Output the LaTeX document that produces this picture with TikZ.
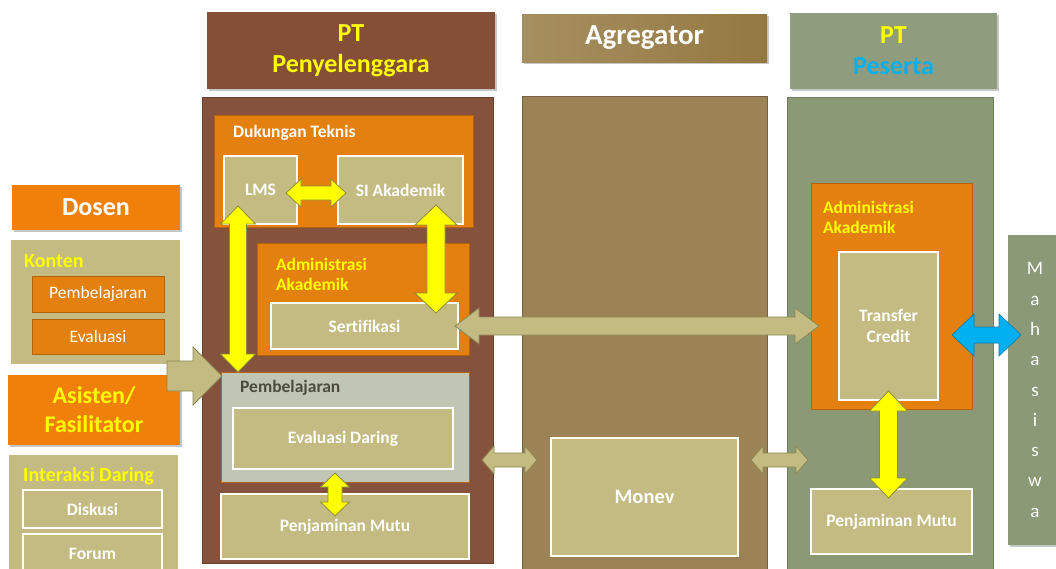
\documentclass[tikz,border=0pt]{standalone}
\usepackage{fontspec}
\setmainfont{Carlito}[Ligatures=NoCommon]
\usetikzlibrary{calc,shadows}

\definecolor{dosenor}{HTML}{F0800A}
\definecolor{boxor}{HTML}{E3800F}
\definecolor{boxorline}{HTML}{B4620C}
\definecolor{khaki}{HTML}{C3BB81}
\definecolor{khakiline}{HTML}{8C8652}
\definecolor{ppbrown}{HTML}{85533D}
\definecolor{ppline}{HTML}{6C3F2C}
\definecolor{pphead}{HTML}{854E36}
\definecolor{agbrown}{HTML}{9B8355}
\definecolor{agline}{HTML}{76623F}
\definecolor{agleft}{HTML}{A68F60}
\definecolor{agright}{HTML}{947841}
\definecolor{psgreen}{HTML}{8B9977}
\definecolor{pshead}{HTML}{8F9D7E}
\definecolor{psline}{HTML}{6F7C5E}
\definecolor{pembgrey}{HTML}{C1C6B4}
\definecolor{pembline}{HTML}{B0661C}
\definecolor{yel}{HTML}{FFFF00}
\definecolor{yelline}{HTML}{8E8E3A}
\definecolor{cyanar}{HTML}{00B0F0}
\definecolor{labgrey}{HTML}{4B4B3E}

\tikzset{
	blk/.style={anchor=north west, inner sep=0pt, outer sep=0pt},
	wbox/.style={blk, draw=white, line width=2.5pt, fill=khaki, text=white, align=center, font=\fontsize{17.5}{21}\selectfont\bfseries},
	obox/.style={blk, draw=boxorline, line width=1pt, fill=boxor},
	head/.style={blk, drop shadow={shadow xshift=2pt, shadow yshift=-2pt, opacity=0.45}, align=center, font=\fontsize{26}{31}\selectfont\bfseries},
	lbl/.style={anchor=base west, inner sep=0pt, font=\fontsize{17.5}{21}\selectfont\bfseries},
	yarr/.style={fill=yel, draw=yelline, line width=0.8pt},
	karr/.style={fill=khaki, draw=khakiline, line width=0.8pt},
	% body half / head half / head length
	dbl/.style args={#1/#2/#3}{to path={
		(\tikztostart)
		-- ($(\tikztostart)!#3!(\tikztotarget)!#2!90:(\tikztotarget)$)
		-- ($(\tikztostart)!#3!(\tikztotarget)!#1!90:(\tikztotarget)$)
		-- ($(\tikztotarget)!#3!(\tikztostart)!#1!-90:(\tikztostart)$)
		-- ($(\tikztotarget)!#3!(\tikztostart)!#2!-90:(\tikztostart)$)
		-- (\tikztotarget)
		-- ($(\tikztotarget)!#3!(\tikztostart)!#2!90:(\tikztostart)$)
		-- ($(\tikztotarget)!#3!(\tikztostart)!#1!90:(\tikztostart)$)
		-- ($(\tikztostart)!#3!(\tikztotarget)!#1!-90:(\tikztotarget)$)
		-- ($(\tikztostart)!#3!(\tikztotarget)!#2!-90:(\tikztotarget)$)
		-- cycle}},
	sgl/.style args={#1/#2/#3}{to path={
		($(\tikztostart)!#1!90:(\tikztotarget)$)
		-- ($(\tikztotarget)!#3!(\tikztostart)!#1!-90:(\tikztostart)$)
		-- ($(\tikztotarget)!#3!(\tikztostart)!#2!-90:(\tikztostart)$)
		-- (\tikztotarget)
		-- ($(\tikztotarget)!#3!(\tikztostart)!#2!90:(\tikztostart)$)
		-- ($(\tikztotarget)!#3!(\tikztostart)!#1!90:(\tikztostart)$)
		-- ($(\tikztostart)!#1!-90:(\tikztotarget)$)
		-- cycle}}
}

\begin{document}
\begin{tikzpicture}[x=1pt, y=-1pt]
	\useasboundingbox (0,0) rectangle (1056,568);

	% kolom kiri
	\node[head, fill=dosenor, text=white, minimum width=168pt, minimum height=45pt] (dosen) at (12,185) {Dosen};
	\node[blk, fill=khaki, minimum width=169pt, minimum height=124pt] (konten) at (11,240) {};
	\node[lbl, text=yel, font=\fontsize{20}{24}\selectfont\bfseries] (kontenlbl) at (24,267) {Konten};
	\node[obox, text=white, font=\fontsize{17.5}{21}\selectfont, minimum width=132pt, minimum height=36pt] (pembk) at (32,276) {Pembelajaran};
	\node[obox, text=white, font=\fontsize{17.5}{21}\selectfont, minimum width=132pt, minimum height=35pt] (evalk) at (32,319) {Evaluasi};
	\node[head, fill=dosenor, text=yel, font=\fontsize{24}{29}\selectfont\bfseries, minimum width=172pt, minimum height=70pt] (asisten) at (8,375) {Asisten/\\Fasilitator};
	\node[blk, fill=khaki, minimum width=169pt, minimum height=125pt] (interaksi) at (9,455) {};
	\node[lbl, text=yel, font=\fontsize{20}{24}\selectfont\bfseries] (interaksilbl) at (23,481) {Interaksi Daring};
	\node[wbox, minimum width=139pt, minimum height=38pt] (diskusi) at (23,490) {Diskusi};
	\node[wbox, minimum width=139pt, minimum height=40pt] (forum) at (23,534) {Forum};

	% PT Penyelenggara
	\node[head, fill=pphead, text=yel, minimum width=288pt, minimum height=77pt] (pphd) at (207,12) {PT\\Penyelenggara};
	\node[blk, fill=ppbrown, draw=ppline, line width=0.8pt, minimum width=291pt, minimum height=466pt] (pp) at (202,97) {};
	\node[obox, minimum width=259pt, minimum height=112pt] (dukungan) at (214,115) {};
	\node[lbl, text=white] (dukunganlbl) at (233,137) {Dukungan Teknis};
	\node[wbox, minimum width=73pt, minimum height=68pt] (lms) at (224,156) {LMS};
	\node[wbox, minimum width=125pt, minimum height=68pt] (si) at (338,156) {SI Akademik};
	\node[obox, minimum width=212pt, minimum height=112pt] (adml) at (257,243) {};
	\node[blk, text=yel, align=left, font=\fontsize{17.5}{20.5}\selectfont\bfseries] (admllbl) at (276,258) {Administrasi\\Akademik};
	\node[wbox, minimum width=187pt, minimum height=46pt] (sert) at (271,303) {Sertifikasi};
	\node[blk, fill=pembgrey, draw=pembline, line width=1pt, minimum width=248pt, minimum height=110pt] (pemb) at (221,372) {};
	\node[lbl, text=labgrey] (pemblbl) at (240,392) {Pembelajaran};
	\node[wbox, minimum width=220pt, minimum height=61pt] (evald) at (233,408) {Evaluasi Daring};
	\node[wbox, minimum width=248pt, minimum height=65pt] (pml) at (221,494) {Penjaminan Mutu};

	% Agregator
	\node[head, left color=agleft, right color=agright, text=white, font=\fontsize{29}{34}\selectfont\bfseries, minimum width=245pt, minimum height=48pt] (aghd) at (522,14) {Agregator};
	\node[blk, fill=agbrown, draw=agline, line width=0.8pt, minimum width=245pt, minimum height=480pt] (ag) at (522,96) {};
	\node[wbox, font=\fontsize{20.5}{24}\selectfont\bfseries, minimum width=187pt, minimum height=118pt] (monev) at (551,438) {Monev};

	% PT Peserta
	\node[head, fill=pshead, text=yel, minimum width=207pt, minimum height=76pt] (pshd) at (790,13) {PT\\\textcolor{cyanar}{Peserta}};
	\node[blk, fill=psgreen, draw=psline, line width=0.8pt, minimum width=206pt, minimum height=480pt] (ps) at (787,97) {};
	\node[obox, minimum width=161pt, minimum height=226pt] (admr) at (811,183) {};
	\node[blk, text=yel, align=left, font=\fontsize{17.5}{20.5}\selectfont\bfseries] (admrlbl) at (823,201) {Administrasi\\Akademik};
	\node[wbox, minimum width=99pt, minimum height=148pt] (tc) at (839,252) {Transfer\\Credit};
	\node[wbox, minimum width=161pt, minimum height=65pt] (pmr) at (811,489) {Penjaminan Mutu};
	\node[head, fill=psgreen, text=white, font=\fontsize{19}{30.3}\selectfont, minimum width=54pt, minimum height=310pt] (mhs) at (1008,235) {M\\a\\h\\a\\s\\i\\s\\w\\a};

	% panah
	\coordinate (y1a) at ([xshift=14pt,yshift=18pt]lms.south west);
	\coordinate (y1b) at ([xshift=17pt]pemb.north west);
	\coordinate (y2a) at ([xshift=-11pt,yshift=-3pt]lms.east);
	\coordinate (y2b) at ([xshift=8pt,yshift=-3pt]si.west);
	\coordinate (y3a) at ([xshift=-27pt,yshift=19pt]si.south east);
	\coordinate (y3b) at ([xshift=-22pt,yshift=-10pt]sert.north east);
	\coordinate (y4a) at ([xshift=-10pt,yshift=9pt]pemb.south);
	\coordinate (y4b) at ([xshift=-10pt,yshift=-22pt]pml.north);
	\coordinate (y5a) at ([yshift=9pt]tc.south);
	\coordinate (y5b) at ([xshift=-3pt,yshift=-9pt]pmr.north);
	\coordinate (k1) at ([xshift=-3pt]sert.east);
	\coordinate (k2) at ([xshift=-20pt]tc.west);
	\coordinate (c1) at ([xshift=14pt,yshift=-9pt]tc.east);
	\coordinate (c2) at ([xshift=13pt,yshift=55pt]mhs.west);
	\coordinate (m1) at (482,460);
	\coordinate (m2) at ([xshift=-14pt,yshift=37pt]monev.west);
	\coordinate (m3) at ([xshift=13pt,yshift=37pt]monev.east);
	\coordinate (m4) at (808,460);
	\coordinate (s1) at (167,376);
	\coordinate (s2) at ([xshift=1pt,yshift=-4pt]pemb.north west);

	\draw[karr, sgl=15pt/29pt/29pt] (s1) to (s2);
	\draw[yarr, dbl=8.5pt/17.5pt/18pt] (y1a) to (y1b);
	\draw[yarr, dbl=7pt/14pt/15pt] (y2a) to (y2b);
	\draw[yarr, dbl=9pt/21pt/20pt] (y3a) to (y3b);
	\draw[yarr, dbl=7pt/14.5pt/14pt] (y4a) to (y4b);
	\draw[yarr, dbl=9pt/19pt/20pt] (y5a) to (y5b);
	\draw[karr, dbl=9pt/18pt/24pt] (k1) to (k2);
	\draw[karr, dbl=7pt/14pt/12pt] (m1) to (m2);
	\draw[karr, dbl=7pt/14pt/12pt] (m3) to (m4);
	\draw[fill=cyanar, draw=cyanar!70!black, line width=0.6pt, dbl=8pt/21pt/22pt] (c1) to (c2);
\end{tikzpicture}
\end{document}
